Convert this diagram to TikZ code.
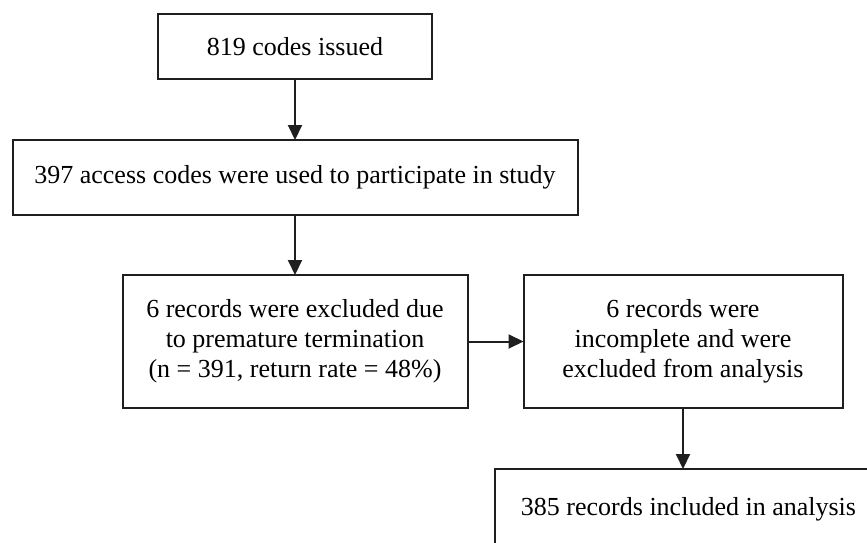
\documentclass[tikz,border=0pt]{standalone}
\usepackage{fontspec}
\setmainfont{Liberation Serif}
\usepackage{tikz}
\usetikzlibrary{arrows.meta, positioning}

\begin{document}
\begin{tikzpicture}[
        node distance = 61pt and 56pt,
        base/.style   ={draw=black!88, line width=2pt, align=center,
                        inner sep=0pt, outer sep=0pt,
                        font=\fontsize{26pt}{30pt}\selectfont},
        issued/.style  ={base, minimum width=274pt, minimum height=65pt},
        used/.style    ={base, minimum width=565pt, minimum height=75pt},
        excluded/.style={base, minimum width=345pt, minimum height=133pt},
        included/.style={base, minimum width=388pt, minimum height=80pt},
        arrow/.style={-{Triangle[length=15pt, width=14pt]}, line width=2pt, draw=black!88}
    ]

    % page size, the last box runs off the bottom right corner
    \path[use as bounding box, clip] (0,0) rectangle (867pt,-543pt);

    % --- boxes ---
    \node[issued] (codes) at (295pt,-46.5pt) {819 codes issued};

    \node[used, below=of codes] (access) {397 access codes were used to participate in study};

    \node[excluded, below=60pt of access] (premature) {6 records were excluded due\\to premature termination\\(n = 391, return rate = 48\%)};

    \node[excluded, minimum width=319pt, right=of premature] (incomplete) {6 records were\\incomplete and were\\excluded from analysis};

    \node[included, below=of incomplete, xshift=5.5pt] (analysis) {385 records included in analysis};

    % --- arrows ---
    \draw[arrow] (codes)     -- (access);
    \draw[arrow] (access)    -- (premature);
    \draw[arrow] (premature) -- (incomplete);
    \draw[arrow] (incomplete.south) -- (incomplete.south |- analysis.north);

\end{tikzpicture}
\end{document}
